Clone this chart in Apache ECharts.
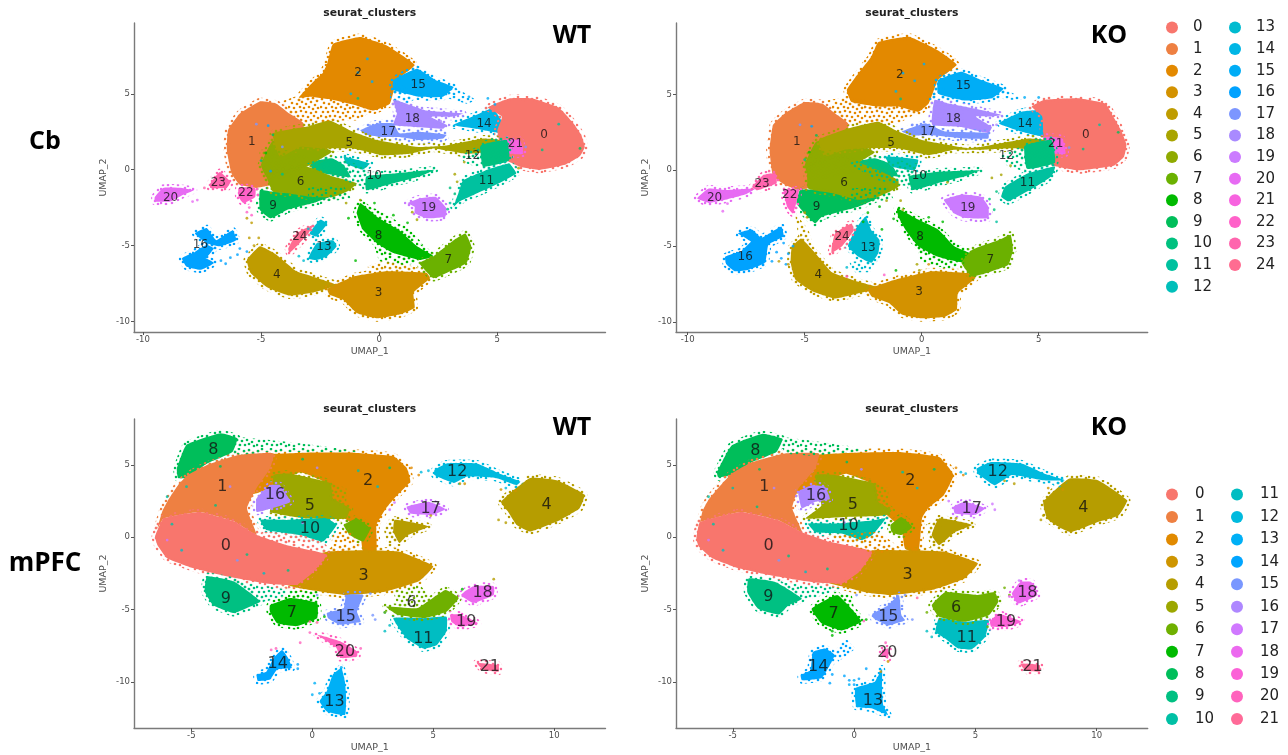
<!DOCTYPE html>
<html><head><meta charset="utf-8">
<style>html,body{margin:0;padding:0;background:#fff}#c{width:1288px;height:755px;filter:blur(0.45px)}</style>
<script src="https://cdn.jsdelivr.net/npm/echarts@6/dist/echarts.min.js"></script>
</head><body><div id="c"></div>
<script>
const cbClusterNames=['0','1','2','3','4','5','6','7','8','9','10','11','12','13','14','15','16','17','18','19','20','21','22','23','24'];
const pfcClusterNames=['0','1','2','3','4','5','6','7','8','9','10','11','12','13','14','15','16','17','18','19','20','21'];
const cbColors=['#F8766D','#EE8042','#E38900','#D39200','#BF9C00','#A8A400','#8FAA00','#6BB100','#00BA00','#00BE5A','#00C17F','#00C19F','#00BFBA','#00BBD0','#00B6E5','#00ADF6','#00A2FF','#7C96FF','#A98AFF','#CB7BFF','#E76BF3','#F763DF','#FF61C9','#FF65AE','#FF6C91'];
const pfcColors=['#F8766D','#EE8042','#E18A00','#CE9500','#B69D00','#9CA700','#6FB000','#00BA00','#00BE5A','#00C082','#00C0A5','#00BDC2','#00BADE','#00B0F6','#00A5FF','#7997FF','#AE87FF','#D078FF','#EC69EF','#FB61D7','#FF63BD','#FF6A98'];
const cbXTicks=[-10,-5,0,5], cbYTicks=[-10,-5,0,5], pfcXTicks=[-5,0,5,10], pfcYTicks=[-10,-5,0,5];

// cluster outlines in UMAP units: [cluster, [x,y, x,y, ...]]; list order is paint order
const cbWtDense=[
[2,[-2.2,7,-1.95,8.3,-.8,8.75,.3,8.2,1.5,6.9,.75,5.9,.45,4.35,-.25,3.9,-1.1,4.3,-1.95,4.6,-2.9,4.8,-3.4,4.75,-2.85,5.7,-2.4,6.35]],
[15,[.6,5.9,1.6,6.65,2.4,5.9,3.15,5.45,2.7,4.8,1.7,4.8,.6,5.25]],
[18,[.6,4.6,1.15,4.35,2,3.9,3.55,3.7,3.15,3.5,2.15,3.5,2.85,2.95,2.7,2.7,1.7,2.8,.6,2.95,.75,3.7]],
[17,[-.8,2.6,-.1,3.05,.6,3.05,.85,2.4,1.7,2.5,2.85,2.3,2.7,2.05,1.7,1.95,.85,2.15,.15,2.15,-.55,2.3]],
[14,[3.15,2.95,4.1,3.6,4.8,4.05,5.25,3.05,5.25,2.4,4.1,2.7]],
[0,[4.6,4.1,5.5,4.7,6.5,4.7,7.6,4.1,8.2,3.1,8.55,2.3,8.7,1.5,8.5,.9,7.9,.35,6.8,0,5.95,.2,5.3,.7,5.1,1.75,5,2.6,5.2,3.5]],
[21,[5.05,1.95,5.95,1.95,6.1,1.05,5.5,1.05,5.1,1.4]],
[1,[-6.4,2.6,-5.9,3.7,-5.05,4.5,-4.35,4.35,-3.8,3.7,-3.2,3.05,-3.3,1,-3.8,-.7,-5.2,-1.2,-5.9,-1,-6.25,-.25,-6.45,1.3]],
[10,[-2.9,.5,-2,.75,-1.5,.3,-1.2,-.5,-1.9,-.35,-2.8,-.1]],
[6,[-4.5,1.9,-3,1.9,-2,1.2,-2.6,.6,-3,.25,-4.7,-.6,-5,.3]],
[5,[-3.05,2.85,-2.1,3.25,-1.1,2.5,-.1,1.95,1.6,1.5,2.85,1.6,4.4,2.05,5.1,1.95,5.1,1.3,3.7,1.05,2.3,1.4,1.3,1.05,.15,.95,-1.1,1.4,-2.5,1.4,-3.35,1.5,-4.2,.85,-4.5,2.4]],
[9,[-5.05,-1.35,-4.5,-1.45,-2.8,-1.6,-1.95,-1.7,-2.8,-2.2,-3.9,-2.65,-4.6,-3.2,-5.05,-2.65]],
[6,[-4.75,-.45,-3.9,0,-3.05,.2,-1.95,-.45,-.95,-.9,-1.25,-1.35,-1.95,-1.8,-2.8,-1.8,-3.9,-1.55,-4.5,-1.45]],
[10,[-.55,-.45,.6,-.25,2.35,0,1.7,-.45,.6,-.9,-.55,-1.35]],
[10,[4.3,1.6,5.4,1.95,5.5,.6,4.4,.2]],
[12,[-1.5,.85,-.4,.4,-.7,0,-1.4,.4]],
[11,[3.55,-.7,4.5,-.05,5.5,.4,5.8,-.25,4.8,-1.1,3.4,-2.1,3.15,-2.45,3.35,-1.55]],
[4,[-5.6,-5.95,-5.05,-5.05,-4.35,-5.6,-3.5,-6.7,-2.8,-7.05,-1.8,-7.6,-2.8,-8.1,-3.8,-8.3,-4.75,-7.75,-5.45,-6.8]],
[3,[-2.2,-7.85,-1.1,-7.05,.3,-6.7,2,-6.8,2.15,-7.15,1.45,-8.1,1.5,-9.1,.85,-9.55,-.1,-9.8,-.95,-9.45,-1.5,-8.6,-2.1,-8.25]],
[8,[-.8,-2.2,-.1,-3.1,.85,-4,1.6,-5.05,2.3,-5.7,1.7,-5.95,.6,-5.5,-.1,-4.85,-.7,-3.95,-.95,-2.85]],
[7,[2.3,-5.7,3.15,-4.65,3.65,-4.2,3.9,-5.05,3.7,-6.15,3,-6.7,2.3,-7.15,1.7,-6.15]],
[19,[1.2,-2.2,1.7,-1.9,2.4,-1.8,2.85,-2.55,2.8,-3.1,2,-3.2,1.5,-2.85,1.5,-2.45]],
[20,[-9.5,-1.8,-9.15,-1.2,-8.4,-1.2,-7.85,-1.35,-8.3,-1.65,-8.85,-2.1,-9.5,-2.1]],
[22,[-5.95,-1.2,-5.25,-1.2,-5.25,-1.8,-5.75,-2.2,-5.95,-1.8]],
[23,[-7.15,-.9,-6.75,-.15,-6.3,-.8,-6.45,-1.2,-7.15,-1.2]],
[13,[-3,-5.85,-2.65,-4.85,-1.95,-4.65,-1.8,-5.05,-2.2,-5.7,-2.65,-5.95]],
[13,[-2.95,-4.2,-2.5,-3.3,-2.2,-3.55,-2.65,-4.4]],
[24,[-3.85,-5.2,-3.5,-4.2,-2.8,-3.65,-3,-4.2,-3.5,-5.05,-3.8,-5.5]],
[16,[-8.35,-5.85,-7.85,-5.5,-7,-6.15,-7.55,-6.6,-8.15,-6.4]],
[16,[-7.8,-4.2,-7.3,-3.85,-6.9,-4.65,-6.2,-4,-6.05,-4.65,-6.75,-5.05,-7.3,-4.85]],
[16,[-7.85,-5.5,-7.3,-4.95,-7,-5.2,-7.55,-6.15]]
];
const cbWtSparse=[
[2,[-4.1,4.5,-3.35,4.9,-.25,3.9,-.95,3.25,-1.95,3.25,-3.05,3.05,-3.8,3.7]],
[15,[3.15,5.45,4.1,4.6,3.7,4.35,2.7,4.8]],
[15,[.45,4.6,.6,5.9,1.7,4.8,1.15,4.35]],
[6,[-5.05,1.3,-3.9,1.3,-3.05,.85,-2.8,-.25,-4.75,-.7,-5.05,.2]],
[10,[-3.05,.4,-2.2,.85,-.55,.2,-.7,-1.1,-1.95,-.45]],
[10,[3.4,.85,4.1,1.5,5.4,1.95,5.5,.65,4.1,.2,3.7,.4]],
[3,[-.55,-6.4,.3,-5.95,2,-6.6,.3,-6.7]],
[18,[.6,4.6,1.7,4.2,1.7,3,.6,3]],
[9,[-3,-1.2,-1.5,-1.1,-1.2,-1.9,-3,-2.2]],
[8,[-1,-2.3,-.1,-2.6,1.2,-3.8,1.9,-5,.6,-4,-.1,-3.1,-.8,-2.2]],
[8,[-.2,-5,.6,-5.5,1.7,-6,1.2,-6.3,0,-6]]
];
const cbWtStray=[[23,-7.4,-1.2],[20,-7.7,-2],[20,-7.9,-2.1],[22,-5.6,-2.8],[22,-5.4,-3],[22,-5.5,-2.5],[4,-5.6,-3.2],[4,-5.4,-3.5],[4,-5.5,-4.5],[4,-5.1,-4.5],[4,-5.3,-5],[16,-6.7,-6],[16,-6.3,-5.8],[16,-6,-5.6],[16,-6.5,-6.2],[16,-5.9,-5.2],[16,-5.6,-5.4],[13,-3.2,-6],[13,-3,-3.9],[13,-3.4,-5.7],[8,-1,-6],[8,.6,-3],[8,1.2,-3.5],[8,-1.3,-3.2],[8,-.2,-2.2],[5,-1.4,-2.2],[5,-.8,-2],[5,3.2,-.3],[5,3.3,-.8],[10,3,-1.2],[10,3.2,-1.6],[10,2.9,-2.6],[11,3,-2.2],[5,3.6,.5],[15,3.8,4.8],[15,4.6,4.7],[15,4.9,4.3],[18,2.6,3.2],[17,-.4,2.9],[10,-5,.6],[8,-4.8,1.1],[17,-5.2,3],[16,-4.7,2.9],[9,-4.5,2.3],[15,-.9,6.4],[15,-.3,5.8],[15,-.5,7.3],[14,-1.2,5],[10,-.9,4.7],[10,6.9,1.3],[17,6.2,1.5],[11,7.6,3],[20,6,1.1],[9,8.5,1.4],[5,1.4,-2.8],[5,1.6,-3.3],[5,5.9,.1],[10,-4.1,-.3],[16,-4.6,-.1],[17,-4.1,1.5]];
const cbWtLabels=[[0,6.98,2.32],[1,-5.39,1.84],[2,-.89,6.38],[3,-.03,-8.09],[4,-4.33,-6.93],[5,-1.26,1.78],[6,-3.33,-.83],[7,2.93,-5.96],[8,-.03,-4.36],[9,-4.49,-2.39],[10,-.21,-.39],[11,4.54,-.75],[12,3.95,.94],[13,-2.34,-5.07],[14,4.44,3.05],[15,1.65,5.59],[16,-7.57,-4.98],[17,.38,2.48],[18,1.4,3.33],[19,2.09,-2.5],[20,-8.83,-1.84],[21,5.77,1.73],[22,-5.64,-1.56],[23,-6.81,-.88],[24,-3.36,-4.45]];

const cbKoDense=[
[2,[-2.15,7.5,-1.85,8.45,-.55,8.8,.7,7.9,1.5,6.95,.7,5.95,.3,4.4,-.15,3.85,-1,4.2,-1.85,4.2,-3,4.5,-3.2,5.3,-2.7,6.4]],
[15,[.7,5.95,1.7,6.5,2.55,5.95,3.5,5.4,3,4.75,1.85,4.6,.7,5.05]],
[18,[.55,4.65,1.15,4.4,2.15,4.1,3.4,3.65,3,3.55,2.3,3.55,3,2.85,2.85,2.45,1.7,2.85,.45,3]],
[17,[-.85,2.55,.15,3.1,.55,2.85,1,2.55,2.85,2.45,2.85,2.1,1.85,2.1,.55,2.3,-.45,2.3]],
[14,[3.3,3.1,4.25,3.85,5.15,3.95,5.4,2.85,5.25,2.2,4.25,2.55]],
[0,[4.7,4.2,5.25,4.65,6.7,4.75,7.85,4.4,8.15,3.65,8.5,2.7,8.75,1.7,8.65,.9,8.2,.3,6.7,0,5.55,.35,5.35,1.1,5.2,2.4,5.15,3.55]],
[21,[5.2,2.2,6,2.1,6.15,1.1,5.5,1.1,5.2,1.55]],
[1,[-6.35,3,-5.85,3.75,-5,4.5,-4.25,4.4,-3.7,3.75,-3.15,3.1,-3.2,1,-3.8,-.7,-5.25,-1.3,-5.85,-.95,-6.35,-.4,-6.5,1.35]],
[10,[-3,.5,-2,.8,-1.3,.4,-1,-.4,-1.85,-.3,-2.8,-.1]],
[6,[-4.5,1.9,-3,1.9,-2,1.2,-2.6,.6,-3,.25,-4.7,-.6,-5,.3]],
[5,[-3.15,2.75,-1.85,3.2,-1,2.55,0,2,2,1.45,2.55,1.55,4.55,2.1,5.25,2,5.25,1.35,3.85,1.45,2.55,1.35,1.4,1.35,.3,1,-1,1.45,-2.4,1.45,-3.3,1.35,-4.15,.9,-4.4,2]],
[9,[-5.2,-1.3,-4.4,-1.3,-2.7,-1.7,-1.85,-1.8,-2.7,-2.4,-4.25,-3.05,-4.55,-3.5,-5,-2.85,-5.35,-2.15]],
[6,[-4.85,.25,-3.85,.9,-3,.7,-1.85,0,-1,-.65,-1,-1.1,-1.85,-1.75,-2.7,-1.95,-3.85,-1.5,-4.85,-1.2]],
[10,[-.55,-.4,.7,-.1,2.5,0,1.85,-.4,.7,-.85,-.4,-1.3]],
[10,[4.4,1.6,5.55,2,5.7,.5,4.5,.1]],
[12,[-1.55,.9,-.15,.7,-.3,0,-1.3,.25]],
[11,[3.55,-1.1,4.55,-.2,5.7,.25,5.55,-.4,4.85,-1.1,3.7,-2.05,3.4,-1.75]],
[4,[-5.55,-5.05,-5.15,-4.5,-4.55,-5.45,-3.85,-6.7,-2.7,-7.35,-1.7,-7.8,-2.7,-8.1,-3.7,-8.45,-4.7,-7.95,-5.4,-7.2,-5.6,-6.1]],
[3,[-2.3,-7.85,-1,-7.15,.45,-6.65,2.15,-6.8,2.3,-7.1,1.55,-8.1,1.5,-9.2,1,-9.65,0,-9.75,-.85,-9.5,-1.4,-8.75,-2.15,-8.3]],
[8,[-1.05,-2.5,-.15,-3.25,.7,-3.9,1.4,-5,2.4,-5.7,1.85,-6.1,.7,-5.7,-.15,-5,-.7,-3.9,-1,-3.05]],
[7,[2.15,-5.25,3.3,-4.6,3.8,-4.25,3.9,-5.25,3.7,-6.25,3,-6.65,2.15,-7,1.7,-6.1]],
[19,[.95,-1.95,1.7,-1.6,2.55,-1.75,2.85,-2.4,2.85,-3.15,1.85,-3.15,1.4,-2.85,1.15,-2.4]],
[20,[-9.6,-1.85,-9.1,-1.2,-8.4,-1.3,-7.1,-1.2,-7.55,-1.6,-8.4,-1.95,-9.1,-2.15]],
[22,[-5.9,-1.3,-5.25,-1.3,-5.5,-2.85,-5.75,-2.4]],
[23,[-7.25,-1.1,-6.75,-.3,-6.25,-.2,-6.2,-.85,-7,-1.3]],
[13,[-2.85,-3.95,-2.4,-3.05,-2.15,-3.95,-1.8,-4.6,-1.85,-5.45,-2.15,-6.1,-2.7,-5.7,-3.15,-5]],
[24,[-3.85,-5.15,-3.7,-4.15,-3,-3.5,-2.9,-3.95,-3.4,-5,-3.85,-5.45]],
[16,[-8.4,-5.7,-7.7,-5.35,-6.7,-6.1,-7.4,-6.55,-8,-6.65,-8.35,-6.2]],
[16,[-7.85,-4.15,-7.25,-3.9,-6.85,-4.45,-6,-3.7,-5.9,-4.35,-6.55,-4.9,-6.7,-6.1,-7.7,-5.35,-7.3,-4.7]]
];
const cbKoSparse=[
[2,[-4.05,4.6,-3,4.85,-.15,3.85,-1,3.1,-1.85,3.1,-3,3.1,-3.7,3.75]],
[15,[.3,4.65,.7,5.7,1.85,4.6,1,4.65]],
[15,[3.5,5.4,4.4,4.65,3.85,4.65,3,4.75]],
[6,[-5,1.3,-3.9,1.3,-3,.8,-2.8,-.2,-4.75,-.7,-5.05,.2]],
[10,[-3.15,.45,-2,.9,-.15,.45,-.55,-1.05,-1.85,-.65]],
[10,[3.3,.9,4.25,1.55,5.55,2,5.7,.45,4.25,0,3.7,.25]],
[4,[-5.4,-2.85,-4.85,-3.9,-4.7,-4.6,-5.25,-4.5]],
[13,[-3.1,-6,-2.15,-6.1,-2.2,-6.7,-2.9,-6.7]],
[18,[.55,4.6,1.8,4.2,1.8,2.9,.5,3]],
[9,[-3,-1.2,-1.5,-1.1,-1.2,-1.9,-3,-2.2]],
[8,[-.2,-5,.7,-5.7,1.85,-6.1,1.2,-6.5,0,-6.1]]
];
const cbKoStray=[[20,-8.5,-2.7],[20,-8.3,-2.2],[16,-6.4,-6],[16,-6,-5.8],[16,-5.7,-5.5],[16,-6.2,-5.4],[16,-5.8,-6.2],[16,-5.5,-5],[16,-5.9,-4.8],[4,-5.7,-6.2],[4,-6.1,-6],[8,-1.8,-2.4],[8,-2.3,-2.8],[8,-2.5,-3.4],[8,-1.2,-3.2],[8,-1.7,-3.9],[5,-1.5,-2],[5,-.9,-2],[5,-.8,-2.6],[13,-3.2,-6.4],[22,-3.2,-7],[22,-1.6,-6.9],[8,-1.1,-6.6],[5,-.2,-6.2],[5,-.1,-6.6],[3,.3,-6.2],[8,.3,-3.1],[8,.9,-3.4],[5,1.1,-.8],[5,3,-.5],[5,3.4,-.3],[10,3.2,-1.4],[10,3.1,-2.6],[11,3.2,-3.4],[10,2.9,-1.9],[5,3.8,.3],[15,4.4,4.8],[15,5,4.8],[18,3.2,3],[17,-.4,3],[10,-5,.7],[8,-4.8,1.2],[17,-5.2,3],[16,-4.7,2.9],[9,-4.5,2.3],[15,-.8,6.4],[15,-.3,5.9],[14,-1.1,5.2],[10,-.9,4.7],[15,.1,7],[10,6.9,1.4],[17,6.3,1.5],[11,7.6,3],[20,6,1.1],[9,8.4,2.5],[4,-5,-2.8],[4,-4.9,-3.1]];
const cbKoLabels=[[0,7.01,2.32],[1,-5.34,1.89],[2,-.93,6.27],[3,-.11,-8.03],[4,-4.42,-6.89],[5,-1.31,1.78],[6,-3.32,-.81],[7,2.93,-5.92],[8,-.07,-4.39],[9,-4.49,-2.39],[10,-.1,-.35],[11,4.52,-.81],[12,3.62,.94],[13,-2.29,-5.09],[14,4.42,3.05],[15,1.78,5.59],[16,-7.54,-5.68],[17,.26,2.52],[18,1.35,3.4],[19,1.97,-2.5],[20,-8.85,-1.82],[21,5.73,1.73],[22,-5.64,-1.62],[23,-6.82,-.92],[24,-3.4,-4.41]];

const pfcWtDense=[
[8,[-5.6,4.75,-5.2,6.4,-3.8,7.2,-3.1,6.85,-3.3,5.9,-4.35,5.1,-5.2,4.1,-5.55,4.1]],
[2,[-3,5.6,-1.9,5.75,-.25,5.85,1.7,5.85,3.35,5.6,3.9,4.8,4.05,3.85,3.5,2.9,3.05,2,2.65,.85,2.65,-1,2.1,-1,1.95,.6,1.15,1.5,.7,2.5,.75,3.6,-.5,4.5,-1.6,3.5,-2.5,3]],
[1,[-6.4,.6,-6.2,1.8,-5.95,2.6,-5.55,3.6,-5.15,4.3,-4.35,5,-3,5.7,-1.6,5.8,-1.75,4.75,-2.3,3.4,-2.7,2,-2.3,.15,-3.25,1.1,-4.65,1.75,-6.15,1.3]],
[3,[-1.5,-3,-.5,-1.6,.6,-1,2.1,-.9,3.6,-1,5,-2,4.4,-3.05,3.05,-3.75,1.4,-4,.3,-3.75,-.65,-3.5]],
[0,[-6.5,.05,-6.15,1.3,-4.65,1.75,-3.25,1.1,-2.3,.15,-1.05,-.55,.6,-1.2,.05,-2.4,-.65,-3.3,-1.9,-3.2,-3.55,-2.7,-4.9,-2.15,-6,-1.45,-6.4,-.55]],
[5,[-1.6,4.3,-.9,4.4,.75,3.75,.85,2.7,1.55,2,1.4,1.3,-.25,1.3,-1.75,1.75,-1.6,2.45]],
[16,[-2.3,2.7,-1.75,3.6,-1.35,3.6,-.9,2.45,-1.45,2.1,-2.3,1.75]],
[10,[-2.15,1.2,-1.05,1.2,.6,1.3,1,.85,.45,-.3,-.5,.15,-1.9,.5]],
[6,[1.3,.85,1.85,1.3,2.4,.6,2.1,-.3,1.55,.15]],
[4,[3.4,1.2,4.8,.75,3.95,.15,3.6,-.4,3.35,.4]],
[4,[7.8,2.45,9,4.1,10.1,3.95,11.25,2.95,11.05,2,10.25,1.2,9,.4,8.45,.85,8.1,1.75]],
[12,[5.05,4.65,5.55,5.1,6.8,5.1,7.75,4.4,8.6,3.85,8.45,3.6,7.6,4.1,6.4,4.2,5.85,3.75,5.05,4.3]],
[17,[3.9,2.1,4.8,2.45,5.5,1.95,5,1.55,4.05,1.65]],
[9,[-4.35,-2.7,-3.25,-3.05,-2.15,-4.45,-2.7,-4.9,-3.25,-5.25,-4.1,-4.7,-4.45,-3.75]],
[7,[-1.75,-4.7,-.9,-4.2,.2,-4.55,.2,-5.6,-.65,-6.15,-1.45,-5.95,-1.75,-5.15]],
[15,[.6,-5.25,1.3,-4.9,1.4,-4,2.1,-4,1.85,-5.15,2,-5.85,1.15,-6.05,.65,-5.6]],
[11,[3.35,-5.6,4.6,-5.6,5.55,-5.5,5.55,-6.5,5.15,-7.45,4.6,-7.7,3.9,-7]],
[6,[3.05,-4.8,4.35,-4.9,5.5,-3.65,6.05,-4.2,5.55,-5.15,4.6,-5.6,3.5,-5.35]],
[18,[6.15,-4,6.65,-3.4,7.5,-3.4,7.5,-4,6.65,-4.55]],
[19,[5.7,-5.35,6.1,-5.35,6.85,-5.95,6.1,-6.2,5.75,-5.85]],
[20,[.2,-6.75,1.15,-7.2,1.85,-7.9,1.85,-8.25,1.15,-8.35,1,-7.65]],
[21,[6.8,-8.7,7.7,-8.85,7.7,-9.3,7.05,-9.15]],
[14,[-1.6,-8.35,-1.25,-7.8,-1,-8.35,-.85,-9.05,-1.45,-9.15,-1.75,-9.85,-2.25,-9.95,-2.3,-9.5,-1.9,-9.3]],
[13,[.85,-9.5,1.2,-9.05,1.35,-10,1.4,-11.1,1.35,-12.3,.6,-12.05,.3,-11.35,.6,-10.65]]
];
const pfcWtSparse=[
[8,[-3.25,6.95,-.5,6.5,2.1,5.9,-1.9,5.9,-3,5.7,-3.25,5.9]],
[2,[.85,.15,1.55,.6,1.95,-.75,.75,-1.2]],
[0,[-2.2,.4,-.5,.2,.5,-.4,.8,-1,-1,-.5]],
[5,[.7,3.7,1.4,3.4,1.4,2.2,.8,2.6]],
[4,[2.95,.6,3.2,1.3,3.6,-.3,3.2,-1]],
[9,[-3.25,-3.05,-.65,-3.75,-1.9,-4.45,-2.15,-4.45]],
[7,[-.9,-3.7,.3,-3.75,.2,-4.55,-.9,-4.2]],
[6,[3.35,-3.75,4.45,-3.3,5,-4.45,3.6,-4.9]],
[4,[7.9,2.6,8.9,4,9.2,3,8.2,1.6]]
];
const pfcWtStray=[[10,-6,2.8],[10,-5.8,.9],[17,-6,-.2],[11,-5.4,-.9],[10,-5.2,3.5],[8,-3.8,4.9],[9,-4,2.2],[16,-3.4,3.5],[9,-2.7,-1.2],[15,-3.1,-1.6],[11,-2,-2.5],[9,-1,-2.3],[8,-.4,5.4],[16,.2,4.8],[10,1.9,4.6],[11,2.7,3.5],[8,3.2,4.8],[16,-.4,1],[2,4.1,4.8],[12,4.5,4.5],[12,4.8,4.6],[2,4.4,4.3],[3,7.8,3.3],[3,8.4,3.2],[12,8,3.4],[4,6.1,3.7],[3,6.3,3.7],[4,7.7,1.2],[4,8,1],[17,3.4,2.4],[17,3.2,1.9],[4,4.9,1.5],[15,2.4,-3.9],[15,2.5,-5.4],[15,2.6,-5.7],[15,.2,-4],[11,3,-5.2],[11,3,-6.5],[11,3.2,-6.1],[6,3,-5.2],[21,-.1,-5.85],[21,.2,-5.9],[7,.5,-5.5],[20,-.1,-6.6],[20,-.5,-7.3],[20,2,-7.7],[13,.1,-10.1],[13,0,-10.9],[13,.3,-10.8],[13,1.2,-9],[14,-.6,-8.8],[14,-.6,-9.1],[20,-1.5,-7.7],[20,-1.7,-7.8],[7,6.2,-3.6],[4,7.5,-2.9]];
const pfcWtLabels=[[0,-3.57,-.6],[1,-3.72,3.46],[2,2.31,3.89],[3,2.12,-2.65],[4,9.68,2.21],[5,-.1,2.19],[6,4.1,-4.52],[7,-.85,-5.23],[8,-4.09,6.04],[9,-3.57,-4.26],[10,-.1,.6],[11,4.59,-7],[12,5.99,4.49],[13,.92,-11.41],[14,-1.43,-8.78],[15,1.38,-5.51],[16,-1.54,2.9],[17,4.89,1.94],[18,7.04,-3.82],[19,6.36,-5.85],[20,1.35,-7.93],[21,7.34,-8.99]];

const pfcKoDense=[
[8,[-5.65,4.5,-5.05,6.35,-3.8,7.15,-2.95,6.8,-3.2,5.9,-4.2,5.2,-5.05,4.3,-5.6,4.15]],
[2,[-3,5.6,-1.75,5.7,-.1,5.85,1.85,5.9,3.5,5.55,4.1,4.3,3.7,2.9,3.05,2,2.8,1.3,2.65,-1,2.1,-.8,1.95,.6,1.3,1.6,.7,2.5,.85,3.6,-.35,4.4,-1.6,3.5,-2.5,3]],
[1,[-6.4,.6,-6.25,1.8,-6,2.6,-5.5,3.6,-5.05,4.4,-4.2,5.2,-2.85,5.8,-1.45,5.8,-1.6,4.75,-2.3,3.35,-2.55,2,-2.15,.35,-3.1,1.15,-4.65,1.75,-6.35,1.05]],
[3,[-1.5,-2.9,-.5,-1.6,.75,-.9,2.1,-.9,3.75,-1,5.1,-1.8,4.55,-2.85,3.2,-3.65,1.55,-4,.45,-3.8,-.5,-3.4]],
[0,[-6.5,-.1,-6.35,1.05,-4.65,1.75,-3.1,1.15,-2.15,.35,-1.05,-.3,.75,-1,.2,-2.4,-.5,-3.2,-1.75,-3.1,-3.4,-2.65,-4.75,-2.15,-5.85,-1.45,-6.4,-.65]],
[5,[-1.6,4.3,-.8,4.3,.85,3.7,1,2.45,1.55,1.85,1.3,1.5,-.35,1.4,-2,1.3,-1.35,2.2]],
[16,[-2.3,3.15,-1.75,3.6,-1.2,3.5,-1,2.65,-1.6,2.45,-2.15,2]],
[10,[-1.9,.95,-.65,.95,.75,1.15,1.3,1.3,.75,.15,.3,-.2,-.5,.25,-1.6,.35]],
[6,[1.5,.85,1.95,1.4,2.4,.7,1.95,.15,1.55,.35]],
[4,[3.5,1.3,4.85,.85,4.15,.35,3.5,-.55,3.2,.15]],
[4,[7.8,2.45,8.85,4.05,10.05,3.95,11.25,2.55,10.9,1.5,10.05,1.05,8.95,.35,8.55,.6,7.95,1.3]],
[12,[5.05,4.75,5.65,5.2,6.9,5.1,7.85,4.4,8.7,3.95,7.75,3.95,6.5,4.3,5.8,3.6,5.1,4.4]],
[17,[4.1,2.1,4.55,2.45,5.4,2,5,1.55,4.15,1.65]],
[9,[-4.35,-2.85,-3.25,-3.1,-2.15,-4.25,-2.7,-4.7,-3.1,-5.35,-3.95,-4.95,-4.4,-3.8]],
[7,[-1.75,-4.95,-.7,-4,0,-5.15,.3,-5.85,-.5,-6.45,-1.35,-5.95]],
[15,[.75,-5.3,1.4,-4.7,1.85,-4,1.95,-5.4,2.1,-5.75,1.4,-6.1,.8,-5.6]],
[11,[3.5,-5.6,4.55,-5.85,5.55,-5.75,5.4,-6.9,4.85,-7.75,4.3,-7.7,3.75,-7,3.35,-6.55]],
[6,[3.2,-4.7,3.75,-3.8,5.1,-4,5.8,-3.8,5.95,-4.45,5.55,-5.4,4.55,-5.85,3.5,-5.5]],
[18,[6.5,-3.9,6.85,-3.1,7.3,-3.1,7.55,-4,6.75,-4.6]],
[19,[5.6,-5.85,5.95,-5.3,6.9,-5.85,6.35,-6.2,5.65,-6.2]],
[20,[1.15,-7.8,1.4,-7.7,1.4,-8.4,1.15,-8.15]],
[21,[6.85,-8.75,7.65,-8.85,7.65,-9.3,7.05,-9.2]],
[14,[-1.7,-7.95,-1.2,-7.7,-.8,-8.15,-1.15,-9.3,-1.35,-9.75,-2.15,-9.9,-2.2,-9.55,-1.8,-9.2]],
[13,[.05,-10.45,.85,-10,1.15,-9.1,1.15,-10.45,1.2,-11.6,1.4,-12.3,.75,-11.85,.1,-11.75]]
];
const pfcKoSparse=[
[8,[-3.1,6.95,-.35,6.35,.75,6,-1.75,5.65,-2.85,5.8]],
[2,[-1.2,.15,1,.35,1.95,-.8,.85,-1.15]],
[5,[.8,3.7,1.4,3.4,1.4,2.2,.9,2.5]],
[4,[2.95,.85,3.5,1.3,3.75,-.55,3.2,-1]],
[9,[-3.25,-3.1,-.5,-3.55,-1.75,-4.25,-2.15,-4.25]],
[14,[-.8,-7.9,-.35,-7,.05,-7.7,-.65,-8.6]],
[7,[-.9,-3.9,-.1,-4,0,-5.15,-.7,-4]],
[4,[7.8,2.6,8.9,3.9,9.2,3,8.2,1.6]],
[12,[7.5,4.4,8.9,3.9,8.4,3.4]]
];
const pfcKoStray=[[10,-6,2.8],[10,-5.8,.9],[17,-6,-.2],[11,-5.4,-.9],[10,-5,3.4],[8,-3.9,4.7],[9,-4,2.1],[16,-3.3,3.4],[9,-2.7,-1.3],[15,-3.1,-1.6],[11,-2,-2.4],[9,-1.1,-2.2],[8,-.3,5.2],[16,.3,4.7],[10,2,4.5],[11,2.6,3.4],[8,3.3,4.7],[16,-.4,1],[2,4.2,4.8],[12,4.4,4.5],[12,4.6,4.4],[2,4.5,4.3],[3,8,3.4],[3,8.6,3.3],[4,6.2,3.9],[4,6.6,3.7],[4,7.7,1.2],[4,7.8,1.5],[17,3.9,2.5],[17,5.7,2.3],[17,5.8,1.9],[4,4.2,1.3],[15,2.1,-4],[15,2.4,-5.7],[21,2.6,-4.2],[15,.1,-4],[11,3,-6.5],[11,3.2,-6.9],[6,3,-5.2],[20,.4,-5.8],[7,.5,-5.7],[7,-.9,-6.8],[7,-.9,-6.5],[20,1.3,-7.3],[3,1.4,-8.6],[14,-.9,-9.5],[14,-.4,-9.6],[14,-.2,-9.9],[14,0,-10.2],[14,.2,-9.8],[14,-1,-10.1],[14,.5,-9.1],[13,0,-9.9],[13,.6,-10.5],[13,-.2,-10.2],[3,1.1,-9.3],[6,6.2,-3.5],[6,6.4,-4],[17,6.8,-3],[18,6.4,-4.1],[6,5.5,-6.2]];
const pfcKoLabels=[[0,-3.52,-.62],[1,-3.7,3.48],[2,2.32,3.89],[3,2.2,-2.63],[4,9.45,2],[5,-.05,2.24],[6,4.2,-4.88],[7,-.85,-5.28],[8,-4.07,6.01],[9,-3.53,-4.15],[10,-.23,.76],[11,4.64,-6.96],[12,5.92,4.49],[13,.78,-11.31],[14,-1.48,-8.99],[15,1.41,-5.48],[16,-1.57,2.86],[17,4.85,1.94],[18,7.14,-3.82],[19,6.26,-5.83],[20,1.37,-7.97],[21,7.35,-9]];

const panels=[
 {dense:cbWtDense,sparse:cbWtSparse,stray:cbWtStray,labels:cbWtLabels,colors:cbColors,prefix:'Cb',xt:cbXTicks,yt:cbYTicks,left:134,top:23,w:471.5,h:309,x:[-10.38,9.58],y:[-10.7,9.67],tag:'WT',tagX:572,tagY:35,fs:12},
 {dense:cbKoDense,sparse:cbKoSparse,stray:cbKoStray,labels:cbKoLabels,colors:cbColors,prefix:'Cb',xt:cbXTicks,yt:cbYTicks,left:676,top:23,w:471.7,h:309,x:[-10.5,9.66],y:[-10.66,9.71],tag:'KO',tagX:1109,tagY:35,fs:12},
 {dense:pfcWtDense,sparse:pfcWtSparse,stray:pfcWtStray,labels:pfcWtLabels,colors:pfcColors,prefix:'mPFC',xt:pfcXTicks,yt:pfcYTicks,left:134,top:419,w:471.5,h:309,x:[-7.37,12.12],y:[-13.2,8.18],tag:'WT',tagX:572,tagY:427,fs:16},
 {dense:pfcKoDense,sparse:pfcKoSparse,stray:pfcKoStray,labels:pfcKoLabels,colors:pfcColors,prefix:'mPFC',xt:pfcXTicks,yt:pfcYTicks,left:676,top:419,w:471.7,h:309,x:[-7.34,12.1],y:[-13.2,8.18],tag:'KO',tagX:1109,tagY:427,fs:16}
];

// stipple tile for the loosely populated regions and the fuzzy cluster edges
const tileDots=[[2,3],[6,1],[11,4],[15,1],[20,3],[25,2],[29,5],[4,7],[9,8],[14,6],[18,8],[23,6],[27,9],[1,11],[6,12],[12,11],[16,12],[21,11],[25,13],[30,12],[3,16],[8,16],[13,15],[18,16],[23,17],[28,16],[1,20],[6,21],[10,20],[15,20],[20,21],[26,20],[30,22],[3,25],[8,25],[13,24],[18,25],[23,24],[28,26],[1,29],[6,30],[11,28],[16,29],[21,29],[25,28],[30,30]];
const tiles={};
function tile(color){
  if(tiles[color])return tiles[color];
  const cv=document.createElement('canvas');cv.width=cv.height=32;
  const g=cv.getContext('2d');g.fillStyle=color;
  tileDots.forEach(d=>{g.beginPath();g.arc(d[0],d[1],1.3,0,Math.PI*2);g.fill();});
  return tiles[color]={image:cv,repeat:'repeat'};
}
function polygonSeries(entry,p,i,isDense){
  const color=p.colors[entry[0]],c=entry[1],pts=[];
  for(let k=0;k<c.length;k+=2)pts.push([c[k],c[k+1]]);
  return {type:'custom',name:p.prefix+'-'+entry[0],xAxisIndex:i,yAxisIndex:i,itemStyle:{color:color},silent:true,data:pts,encode:{x:0,y:1},clip:false,
    renderItem:function(params,api){
      if(params.dataIndex!==0)return;
      const points=pts.map(q=>api.coord(q));
      return {type:'polygon',shape:{points:points,smooth:isDense?0.12:0.05},
        style:isDense?{fill:color,stroke:tile(color),lineWidth:7,lineJoin:'round'}:{fill:tile(color)}};
    }};
}
const series=[],grid=[],xAxis=[],yAxis=[],title=[];
const axisText={color:'#4d4d4d',fontSize:8.5,fontFamily:'DejaVu Sans'};
panels.forEach((p,i)=>{
  grid.push({left:p.left,top:p.top,width:p.w,height:p.h});
  const common={type:'value',splitLine:{show:false},nameLocation:'middle',nameTextStyle:{color:'#4d4d4d',fontSize:9.5,fontFamily:'DejaVu Sans'},axisLine:{show:true,onZero:false,lineStyle:{color:'#7a7a7a',width:1.4}}};
  xAxis.push(Object.assign({},common,{gridIndex:i,min:p.x[0],max:p.x[1],name:'UMAP_1',nameGap:15,axisTick:{show:true,length:3,customValues:p.xt,lineStyle:{color:'#555'}},axisLabel:Object.assign({customValues:p.xt,margin:3},axisText)}));
  yAxis.push(Object.assign({},common,{gridIndex:i,min:p.y[0],max:p.y[1],name:'UMAP_2',nameGap:25,axisTick:{show:true,length:3,customValues:p.yt,lineStyle:{color:'#555'}},axisLabel:Object.assign({customValues:p.yt,margin:4},axisText)}));
  title.push({text:'seurat_clusters',left:p.left+p.w/2,top:p.top-15,padding:0,textAlign:'center',textStyle:{fontSize:10.8,fontWeight:'bold',color:'#222',fontFamily:'DejaVu Sans'}});
  title.push({text:p.tag,left:p.tagX,top:p.tagY-12,padding:0,textAlign:'center',textStyle:{fontSize:25,fontWeight:'bold',color:'#000',fontFamily:'Open Sans'}});
  p.dense.forEach(e=>series.push(polygonSeries(e,p,i,true)));
  p.sparse.forEach(e=>series.push(polygonSeries(e,p,i,false)));
  series.push({type:'scatter',silent:true,name:p.prefix+' strays',xAxisIndex:i,yAxisIndex:i,symbolSize:2.8,
    data:p.stray.map(s=>({value:[s[1],s[2]],itemStyle:{color:p.colors[s[0]]}}))});
  series.push({type:'scatter',silent:true,name:p.prefix+' labels',xAxisIndex:i,yAxisIndex:i,symbolSize:0,z:6,
    data:p.labels.map(s=>({value:[s[1],s[2]],name:String(s[0])})),
    label:{show:true,position:'inside',formatter:'{b}',color:'#111',fontSize:p.fs,fontFamily:'DejaVu Sans'}});
});
title.push({text:'Cb',left:45,top:129,padding:0,textAlign:'center',textStyle:{fontSize:25,fontWeight:'bold',color:'#000',fontFamily:'Open Sans'}});
title.push({text:'mPFC',left:45,top:551,padding:0,textAlign:'center',textStyle:{fontSize:26,fontWeight:'bold',color:'#000',fontFamily:'Open Sans'}});

function legendCol(names,prefix,left,top,gap,pad){
  return {show:true,orient:'vertical',left:left,top:top,height:320,padding:0,itemWidth:12,itemHeight:12,itemGap:gap,icon:'circle',selectedMode:false,
    data:names.map(n=>prefix+'-'+n),formatter:n=>n.split('-')[1],
    textStyle:{fontSize:15,lineHeight:12,color:'#222',fontFamily:'DejaVu Sans',padding:[0,0,0,pad]}};
}
const legend=[
 legendCol(cbClusterNames.slice(0,13),'Cb',1166,20,6.6,10),
 legendCol(cbClusterNames.slice(13),'Cb',1229,20,6.6,10),
 legendCol(pfcClusterNames.slice(0,11),'mPFC',1166,487,7.45,12),
 legendCol(pfcClusterNames.slice(11),'mPFC',1231,487,7.45,12)
];
const chart=echarts.init(document.getElementById('c'),null,{renderer:'canvas',width:1288,height:755});
chart.setOption({animation:false,backgroundColor:'#fff',title,grid,xAxis,yAxis,legend,series});
</script></body></html>
